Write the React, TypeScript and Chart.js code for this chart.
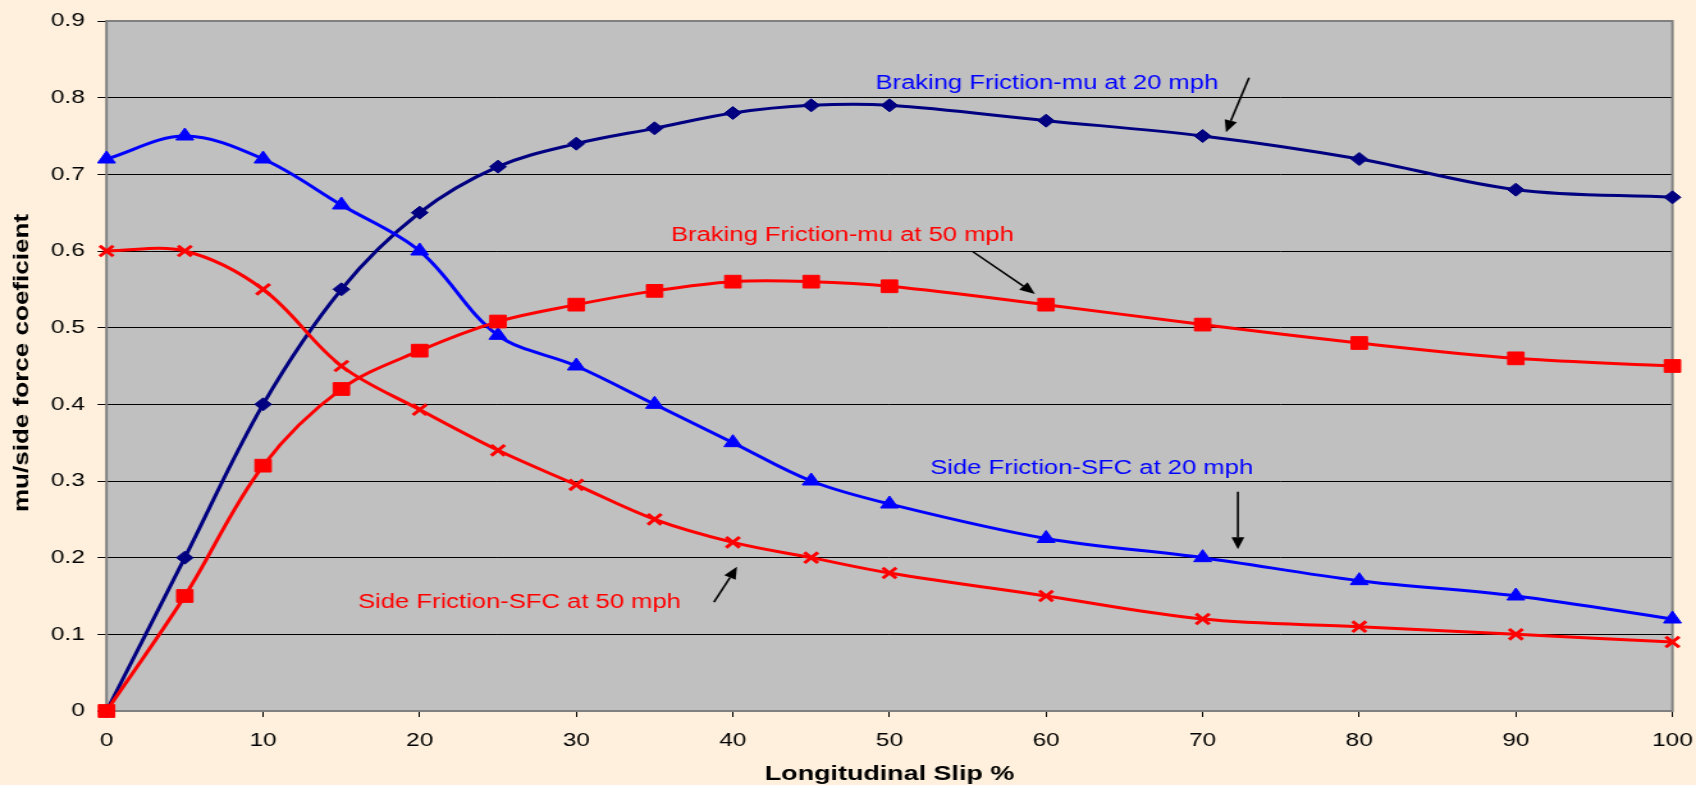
import React, { useEffect, useRef } from 'react';
import { Chart, registerables } from 'chart.js';

Chart.register(...registerables);

// ---- data ----
const slip = [0, 5, 10, 15, 20, 25, 30, 35, 40, 45, 50, 60, 70, 80, 90, 100];
const braking20 = [0, 0.2, 0.4, 0.55, 0.65, 0.71, 0.74, 0.76, 0.78, 0.79, 0.79, 0.77, 0.75, 0.72, 0.68, 0.67];
const side20 = [0.72, 0.75, 0.72, 0.66, 0.6, 0.49, 0.45, 0.4, 0.35, 0.3, 0.27, 0.225, 0.2, 0.17, 0.15, 0.12];
const braking50 = [0, 0.15, 0.32, 0.42, 0.47, 0.508, 0.53, 0.548, 0.56, 0.56, 0.554, 0.53, 0.504, 0.48, 0.46, 0.45];
const side50 = [0.6, 0.6, 0.55, 0.45, 0.393, 0.34, 0.295, 0.25, 0.22, 0.2, 0.18, 0.15, 0.12, 0.11, 0.1, 0.09];

const xTickLabels = ['0', '10', '20', '30', '40', '50', '60', '70', '80', '90', '100'];
const yTickLabels = ['0', '0.1', '0.2', '0.3', '0.4', '0.5', '0.6', '0.7', '0.8', '0.9'];

const seriesNames = [
  'Braking Friction-mu at 20 mph',
  'Side Friction-SFC at 20 mph',
  'Braking Friction-mu at 50 mph',
  'Side Friction-SFC at 50 mph',
];

const xTitle = 'Longitudinal Slip %';
const yTitle = 'mu/side force coeficient';

// annotation placement, in data units (text left/center, arrow tail -> head)
const annotations = [
  { text: seriesNames[0], color: '#0000FF', tx: 49.1, ty: 0.819, ax1: 72.96, ay1: 0.826, ax2: 71.49, ay2: 0.755 },
  { text: seriesNames[2], color: '#FF0000', tx: 36.05, ty: 0.62, ax1: 55.33, ay1: 0.599, ax2: 59.29, ay2: 0.544 },
  { text: seriesNames[1], color: '#0000FF', tx: 52.6, ty: 0.316, ax1: 72.25, ay1: 0.286, ax2: 72.25, ay2: 0.211 },
  { text: seriesNames[3], color: '#FF0000', tx: 16.06, ty: 0.141, ax1: 38.79, ay1: 0.142, ax2: 40.26, ay2: 0.188 },
];

const FONT = "'Liberation Sans', Arial, sans-serif";
const W = 1325;
const H = 785;
const CSS_W = 1696;
const STRETCH = CSS_W / W;

const toPoints = (ys: number[]) => slip.map((x, i) => ({ x, y: ys[i] }));

const bgPlugin = {
  id: 'bgPlugin',
  beforeDraw(chart: any) {
    const { ctx, chartArea } = chart;
    ctx.save();
    ctx.fillStyle = '#FEF0DC';
    ctx.fillRect(0, 0, chart.width, chart.height);
    ctx.fillStyle = '#C0C0C0';
    ctx.fillRect(chartArea.left, chartArea.top, chartArea.right - chartArea.left, chartArea.bottom - chartArea.top);
    ctx.restore();
  },
  beforeDatasetsDraw(chart: any) {
    const { ctx, chartArea } = chart;
    ctx.save();
    ctx.strokeStyle = '#808080';
    ctx.lineWidth = 2;
    ctx.strokeRect(chartArea.left, chartArea.top, chartArea.right - chartArea.left, chartArea.bottom - chartArea.top);
    ctx.restore();
  },
};

const annotationPlugin = {
  id: 'annotationPlugin',
  afterDatasetsDraw(chart: any) {
    const { ctx, chartArea } = chart;
    const xs = chart.scales.x;
    const ys = chart.scales.y;
    ctx.save();
    for (const a of annotations) {
      ctx.font = `20px ${FONT}`;
      ctx.fillStyle = a.color;
      ctx.textAlign = 'left';
      ctx.textBaseline = 'middle';
      ctx.fillText(a.text, xs.getPixelForValue(a.tx), ys.getPixelForValue(a.ty));

      const x1 = xs.getPixelForValue(a.ax1);
      const y1 = ys.getPixelForValue(a.ay1);
      const x2 = xs.getPixelForValue(a.ax2);
      const y2 = ys.getPixelForValue(a.ay2);
      const ang = Math.atan2(y2 - y1, x2 - x1);
      const headLen = 12;
      const headHalf = 5;
      const bx = x2 - Math.cos(ang) * headLen;
      const by = y2 - Math.sin(ang) * headLen;
      ctx.strokeStyle = '#000000';
      ctx.lineWidth = 1.6;
      ctx.beginPath();
      ctx.moveTo(x1, y1);
      ctx.lineTo(bx, by);
      ctx.stroke();
      ctx.fillStyle = '#000000';
      ctx.beginPath();
      ctx.moveTo(x2, y2);
      ctx.lineTo(bx + Math.sin(ang) * headHalf, by - Math.cos(ang) * headHalf);
      ctx.lineTo(bx - Math.sin(ang) * headHalf, by + Math.cos(ang) * headHalf);
      ctx.closePath();
      ctx.fill();
    }
    ctx.restore();

    // y axis title (rotated, with the same along-text stretch as the other text)
    ctx.save();
    ctx.translate(17.7, (chartArea.top + chartArea.bottom) / 2 - 3);
    ctx.rotate(-Math.PI / 2);
    ctx.scale(1.24, 1 / STRETCH);
    ctx.font = `bold 21px ${FONT}`;
    ctx.fillStyle = '#000000';
    ctx.textAlign = 'center';
    ctx.textBaseline = 'middle';
    ctx.fillText(yTitle, 0, 0);
    ctx.restore();
  },
};

export default function App() {
  const canvasRef = useRef<HTMLCanvasElement | null>(null);

  useEffect(() => {
    document.body.style.margin = '0';
    const canvas = canvasRef.current;
    if (!canvas) return;

    const chart = new Chart(canvas, {
      type: 'line',
      data: {
        datasets: [
          {
            label: seriesNames[3],
            data: toPoints(side50),
            borderColor: '#FF0000',
            backgroundColor: '#FF0000',
            borderWidth: 3,
            pointStyle: 'crossRot',
            pointRadius: 7.5,
            pointBorderWidth: 3,
            pointBorderColor: '#FF0000',
            tension: 0.35,
            clip: false,
            order: 1,
          },
          {
            label: seriesNames[2],
            data: toPoints(braking50),
            borderColor: '#FF0000',
            backgroundColor: '#FF0000',
            borderWidth: 3,
            pointStyle: 'rect',
            pointRadius: 9,
            pointBorderWidth: 1,
            pointBorderColor: '#FF0000',
            tension: 0.35,
            clip: false,
            order: 0,
          },
          {
            label: seriesNames[1],
            data: toPoints(side20),
            borderColor: '#0000FF',
            backgroundColor: '#0000FF',
            borderWidth: 3,
            pointStyle: 'triangle',
            pointRadius: 8,
            pointBorderWidth: 1,
            pointBorderColor: '#0000FF',
            tension: 0.35,
            clip: false,
            order: 2,
          },
          {
            label: seriesNames[0],
            data: toPoints(braking20),
            borderColor: '#000080',
            backgroundColor: '#000080',
            borderWidth: 3,
            pointStyle: 'rectRot',
            pointRadius: 6.5,
            pointBorderWidth: 1,
            pointBorderColor: '#000080',
            tension: 0.35,
            clip: false,
            order: 3,
          },
        ],
      },
      options: {
        animation: false,
        responsive: false,
        devicePixelRatio: 1,
        layout: { autoPadding: false, padding: { top: 21, right: W - 1306.6, left: 0, bottom: 0 } },
        plugins: {
          legend: { display: false },
          tooltip: { enabled: false },
          title: { display: false },
        },
        scales: {
          x: {
            type: 'linear',
            min: 0,
            max: 100,
            border: { display: false },
            grid: {
              drawOnChartArea: false,
              drawTicks: true,
              tickLength: 6,
              tickColor: '#000000',
              tickWidth: 1,
            },
            ticks: {
              stepSize: 10,
              padding: 12,
              color: '#000000',
              font: { family: FONT, size: 19 },
              maxRotation: 0,
              callback: (v: any) => xTickLabels[Math.round(Number(v) / 10)] ?? '',
            },
            title: {
              display: true,
              text: xTitle,
              color: '#000000',
              font: { family: FONT, size: 21, weight: 'bold', lineHeight: 1 },
              padding: { top: 0, bottom: 0 },
            },
            afterFit: (scale: any) => {
              scale.height = 74;
              scale.paddingLeft = 0;
              scale.paddingRight = 0;
            },
          },
          y: {
            type: 'linear',
            min: 0,
            max: 0.9,
            border: { display: false },
            grid: {
              color: '#000000',
              lineWidth: 1,
              drawTicks: true,
              tickLength: 7,
              tickColor: '#000000',
            },
            ticks: {
              stepSize: 0.1,
              padding: 10,
              color: '#000000',
              font: { family: FONT, size: 19 },
              callback: (v: any) => yTickLabels[Math.round(Number(v) * 10)] ?? '',
            },
            title: { display: false, text: yTitle },
            afterFit: (scale: any) => {
              scale.width = 83.2;
              scale.paddingTop = 0;
              scale.paddingBottom = 0;
            },
          },
        },
      },
      plugins: [bgPlugin, annotationPlugin],
    } as any);

    return () => {
      chart.destroy();
    };
  }, []);

  return (
    <div style={{ position: 'fixed', left: 0, top: 0, width: CSS_W, height: H, background: '#FEF0DC' }}>
      <canvas
        ref={canvasRef}
        width={W}
        height={H}
        style={{ width: `${CSS_W}px`, height: `${H}px`, display: 'block' }}
      />
    </div>
  );
}
